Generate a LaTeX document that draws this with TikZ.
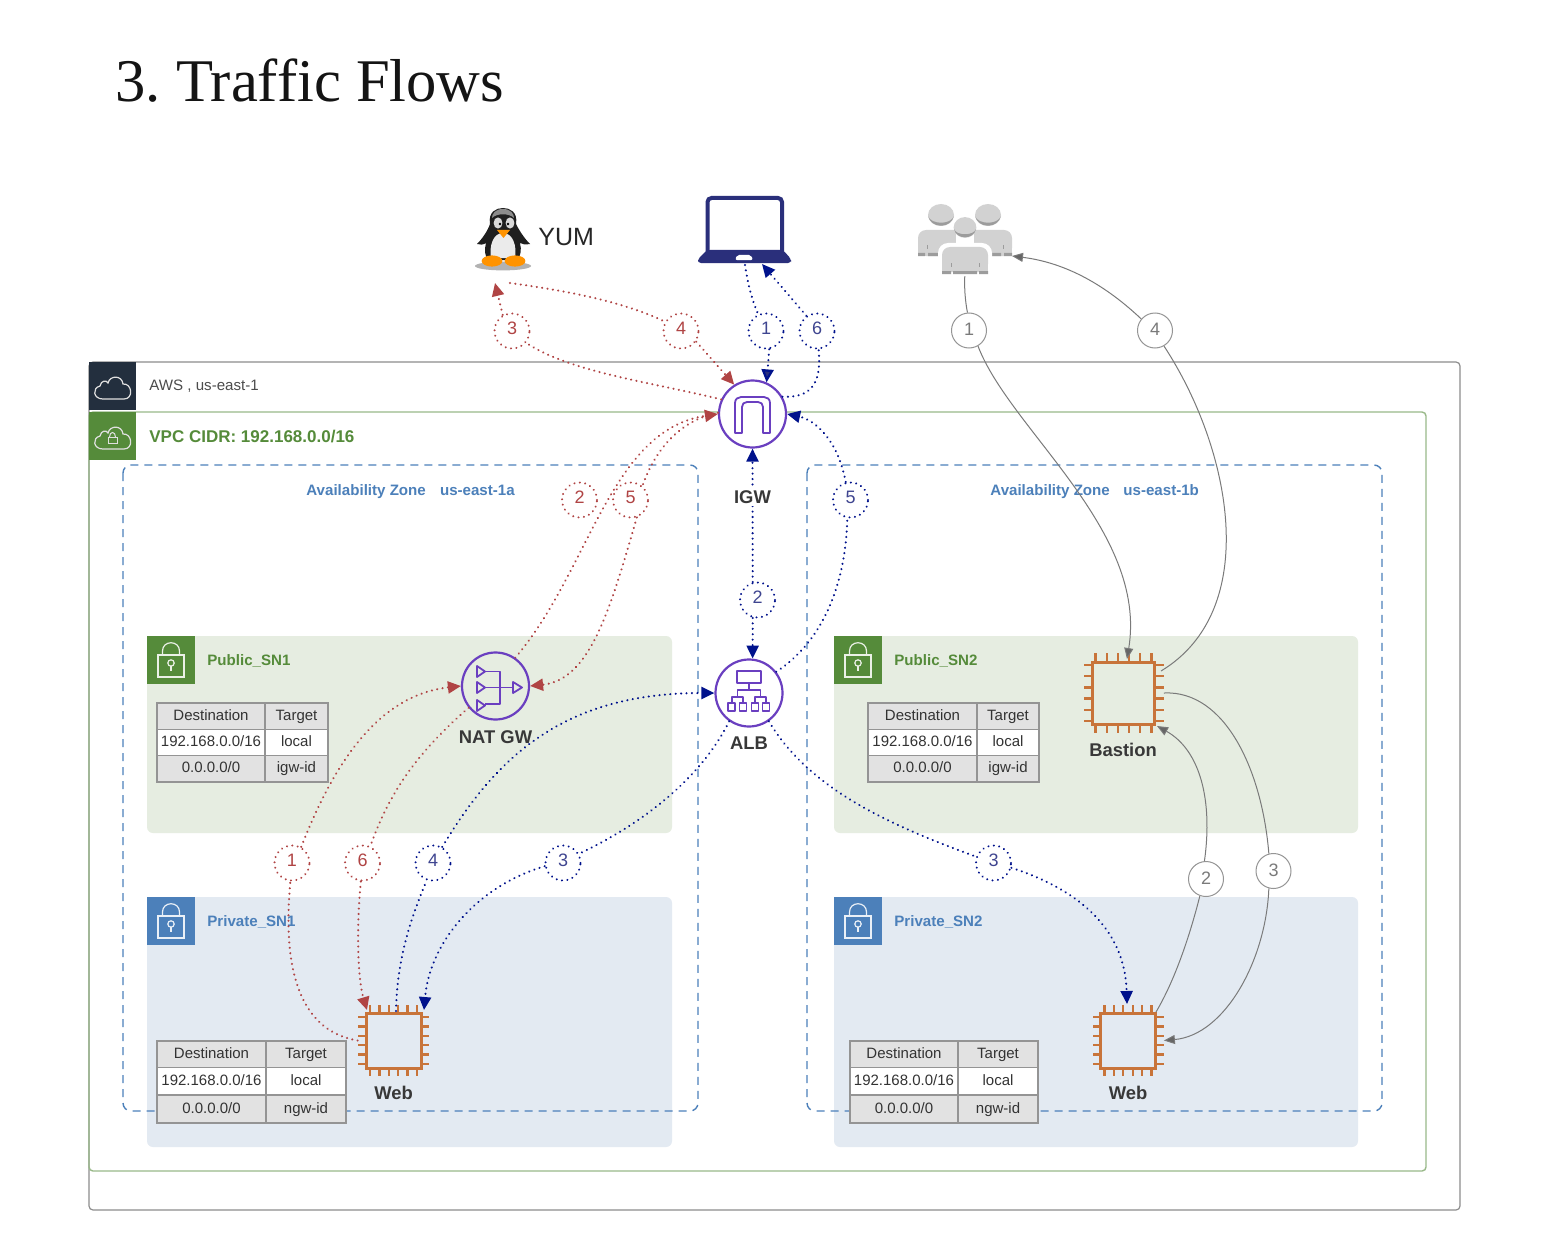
\documentclass[tikz,border=0pt]{standalone}
\usepackage{fontspec}
\setmainfont{Liberation Sans}
\newfontfamily\titlefont{Liberation Serif}
\usetikzlibrary{arrows.meta,calc}
\frenchspacing
\definecolor{cred}{HTML}{B04444}
\definecolor{cblue}{HTML}{00128C}
\definecolor{cnum}{HTML}{3F4590}
\definecolor{cgrey}{HTML}{7A7A7A}
\definecolor{cpurple}{HTML}{6A3FC0}
\definecolor{corange}{HTML}{C8743A}
\definecolor{cgreen}{HTML}{558B3A}
\definecolor{cazure}{HTML}{4C80BA}
\definecolor{cnavy}{HTML}{2A2F7B}
\definecolor{cdark}{HTML}{232F3E}
\definecolor{paneg}{HTML}{E6EDE1}
\definecolor{paneb}{HTML}{E3EAF2}
\definecolor{tgrey}{HTML}{E2E2E2}
\definecolor{ppl}{HTML}{D2D2D2}
\definecolor{ppld}{HTML}{9C9C9C}
\tikzset{
  numred/.style={circle,draw=cred,fill=none,text=cred,line width=1.1pt,dash pattern=on 0.01pt off 2.7pt,line cap=round,minimum size=17.5pt,inner sep=0pt,text height=6.4pt,text depth=3pt,font=\fontsize{9}{9}\selectfont},
  numblue/.style={numred,draw=cblue,text=cnum},
  numgrey/.style={circle,draw=cgrey!80,text=cgrey,fill=white,line width=.5pt,minimum size=17.5pt,inner sep=0pt,text height=6.4pt,text depth=1pt,font=\fontsize{9}{9}\selectfont},
  flowbase/.style={line width=1.15pt,dash pattern=on 0.01pt off 2.7pt,line cap=round},
  flowred/.style={flowbase,draw=cred},
  flowblue/.style={flowbase,draw=cblue},
  flowgrey/.style={draw=cgrey,line width=.5pt},
  redtip/.style={-{Triangle[length=6.5pt,width=6pt,fill=cred]}},
  bluetip/.style={-{Triangle[length=6.5pt,width=6pt,fill=cblue]}},
  navytip/.style={-{Triangle[length=6.5pt,width=6pt,fill=cnavy]}},
  greytip/.style={-{Triangle[length=5.5pt,width=4.5pt,fill=black!60]}},
  hubcircle/.style={circle,draw=cpurple,fill=white,line width=1.1pt,inner sep=0pt,minimum size=33.5pt},
  iconline/.style={draw=cpurple,line width=.9pt,line join=round},
  chipbody/.style={rectangle,inner sep=0pt},
  celltext/.style={font=\fontsize{7.5}{7.5}\selectfont,text=black!80,inner sep=0pt,text height=5.6pt,text depth=1.6pt},
  boldlabel/.style={font=\fontsize{9.2}{9.2}\selectfont\bfseries,text=black!78,inner sep=1pt},
  panelabel/.style={font=\fontsize{7.55}{7.55}\selectfont\bfseries,anchor=west,inner sep=0pt},
  azlabel/.style={font=\fontsize{7.55}{7.55}\selectfont\bfseries,text=cazure,anchor=west,inner sep=0pt},
}
% name, x0 x1 x2, y0 y1 y2 y3, target of the last row
\newcommand{\rtbl}[9]{%
  \fill[tgrey] (#2,#5) rectangle (#4,#8);
  \fill[white] (#2,#6) rectangle (#4,#7);
  \draw[black!42,line width=.55pt] (#2,#5) rectangle (#4,#8) (#3,#5) -- (#3,#8) (#2,#6) -- (#4,#6) (#2,#7) -- (#4,#7);
  \node[celltext] (#1a) at ({(#2+#3)/2},{(#5+#6)/2}) {Destination};
  \node[celltext] (#1b) at ({(#3+#4)/2},{(#5+#6)/2}) {Target};
  \node[celltext] (#1c) at ({(#2+#3)/2},{(#6+#7)/2}) {192.168.0.0/16};
  \node[celltext] (#1d) at ({(#3+#4)/2},{(#6+#7)/2}) {local};
  \node[celltext] (#1e) at ({(#2+#3)/2},{(#7+#8)/2}) {0.0.0.0/0};
  \node[celltext] (#1f) at ({(#3+#4)/2},{(#7+#8)/2}) {#9};
}
% name, cx, cy, half, pitch, pin length
\newcommand{\chipicon}[6]{%
  \node[chipbody,minimum size={(#4+#6)*1pt}] (#1) at (#2,#3) {};
  \begin{scope}[shift={(#2,#3)}]
    \draw[corange,line width=1.5pt,line join=miter] (-#4,-#4) rectangle (#4,#4);
    \foreach \i in {-2.5,-1.5,-0.5,0.5,1.5,2.5}{
      \draw[corange,line width=1.15pt] ({\i*#5},{-#4}) -- ({\i*#5},{-#4-#6});
      \draw[corange,line width=1.15pt] ({\i*#5},{#4}) -- ({\i*#5},{#4+#6});
      \draw[corange,line width=1.15pt] ({-#4},{\i*#5}) -- ({-#4-#6},{\i*#5});
      \draw[corange,line width=1.15pt] ({#4},{\i*#5}) -- ({#4+#6},{\i*#5});
    }
  \end{scope}
}
% fill colour, cx, cy
\newcommand{\lockicon}[3]{%
  \fill[#1] ({#2-24},{#3-24}) rectangle ({#2+24},{#3+24});
  \begin{scope}[shift={(#2,#3)},white!88!#1,line width=.6pt]
    \draw (-13,-5) rectangle (13,17);
    \draw (-8.5,-5) -- (-8.5,-9) .. controls (-8.5,-20) and (8.5,-20) .. (8.5,-9) -- (8.5,-5);
    \draw (0,3) circle (1.6pt);
    \draw (0,6) -- (0,11);
  \end{scope}
}
\newcommand{\cloudpath}[2]{%
  \draw[white!88!black,line width=.6pt,shift={(#1,#2)}] (-10,12) .. controls (-20,12) and (-21,1) .. (-13,-1) .. controls (-12,-7) and (-6,-7) .. (-5,-4) .. controls (-3,-12) and (9,-12) .. (10,-3) .. controls (19,-4) and (21,12) .. (11,12) -- cycle;
}
\begin{document}
\begin{tikzpicture}[x=0.5pt,y=-0.5pt]
\useasboundingbox (0,0) rectangle (1562,1246);
\fill[white] (0,0) rectangle (1562,1246);
\node[font=\titlefont\fontsize{30.3}{30.3}\selectfont,anchor=base west,inner sep=0pt,text=black!92] (title) at (115,102) {3. Traffic Flows};

% frames
\draw[black!45,line width=.6pt,rounded corners=2pt] (89,362) rectangle (1460,1210);
\draw[cgreen!60,line width=.7pt,rounded corners=2pt] (89,412) rectangle (1426,1171);
\fill[paneg,rounded corners=3pt] (147,636) rectangle (672,833);
\fill[paneb,rounded corners=3pt] (147,897) rectangle (672,1147);
\fill[paneg,rounded corners=3pt] (834,636) rectangle (1358,833);
\fill[paneb,rounded corners=3pt] (834,897) rectangle (1358,1147);
\draw[cazure,line width=.7pt,dash pattern=on 4pt off 3pt,rounded corners=4pt] (123,465) rectangle (698,1111);
\draw[cazure,line width=.7pt,dash pattern=on 4pt off 3pt,rounded corners=4pt] (807,465) rectangle (1382,1111);

% headers
\fill[cdark] (89,362) rectangle (136,410);
\cloudpath{113}{387}
\fill[cgreen] (89,412) rectangle (136,460);
\cloudpath{113}{437}
\draw[white!88!black,line width=.5pt] (108,437) rectangle (117,443);
\draw[white!88!black,line width=.5pt] (109.5,437) .. controls (109.5,431) and (115.5,431) .. (115.5,437);
\node[anchor=west,inner sep=0pt,text=black!70,font=\fontsize{7.55}{7.55}\selectfont] (awslabel) at (149,386.5) {AWS , us-east-1};
\node[anchor=west,inner sep=0pt,text=cgreen,font=\fontsize{8.5}{8.5}\selectfont\bfseries] (vpclabel) at (149,437) {VPC CIDR: 192.168.0.0/16};
\node[azlabel] (az1label) at (306,492) {Availability Zone\ \ \ \hspace{.8pt}us-east-1a};
\node[azlabel] (az2label) at (990,492) {Availability Zone\ \ \ \hspace{.5pt}us-east-1b};

\lockicon{cgreen}{171}{660}
\lockicon{cazure}{171}{921}
\lockicon{cgreen}{858}{660}
\lockicon{cazure}{858}{921}
\node[panelabel,text=cgreen] (pub1) at (207,661) {Public\_SN1};
\node[panelabel,text=cazure] (prv1) at (207,922) {Private\_SN1};
\node[panelabel,text=cgreen] (pub2) at (894,661) {Public\_SN2};
\node[panelabel,text=cazure] (prv2) at (894,922) {Private\_SN2};

% route tables
\rtbl{ta}{157}{265}{328}{703}{729.5}{755.5}{782}{igw-id}
\rtbl{tb}{157}{266}{346}{1041}{1067.5}{1095}{1123}{ngw-id}
\rtbl{tc}{868}{977}{1039}{703}{729.5}{755.5}{782}{igw-id}
\rtbl{td}{850}{958}{1038}{1041}{1067.5}{1095}{1123}{ngw-id}

% hubs and chips
\node[hubcircle] (igw) at (752.5,414) {};
\node[hubcircle] (alb) at (749,693) {};
\node[hubcircle,fill=none] (nat) at (495.5,686) {};
\chipicon{web1}{393.5}{1040.5}{27.5}{9.4}{8}
\chipicon{bas}{1123.5}{693}{31}{11.2}{9}
\chipicon{web2}{1128}{1040.5}{27.5}{9.4}{8}

% free ends
\coordinate (yumin) at (495,283);
\coordinate (yumout) at (510,283);
\coordinate (lapout) at (745,265);
\coordinate (lapin) at (762,264);
\coordinate (pplout) at (965,273);
\coordinate (pplin) at (1012,256);
\coordinate (w1redin) at (367,1010);
\coordinate (w1blueout) at (396,1011);
\coordinate (w1bluein) at (424,1010);
\coordinate (w2in) at (1127,1004);
\coordinate (w2out) at (1156,1012);
\coordinate (basin) at (1127,659);
\coordinate (basout) at (1161,671);
\coordinate (basin2) at (1157,726);

% number circles
\node[numred] (r3) at (512,331) {3};
\node[numred] (r4) at (681,331) {4};
\node[numblue] (b1) at (766,331) {1};
\node[numblue] (b6) at (817,331) {6};
\node[numred] (r2) at (579.5,500) {2};
\node[numred] (r5) at (630.5,500) {5};
\node[numblue] (b5) at (850.5,500) {5};
\node[numblue] (b2) at (757.5,600) {2};
\node[numred] (r1) at (292,863) {1};
\node[numred] (r6) at (362.5,863) {6};
\node[numblue] (b4) at (433,863) {4};
\node[numblue] (b3) at (563,863) {3};
\node[numblue] (b3r) at (993.5,863) {3};
\node[numgrey] (g1) at (969,330.5) {1};
\node[numgrey] (g4) at (1155,330.5) {4};
\node[numgrey] (g2) at (1206,879) {2};
\node[numgrey] (g3) at (1273.5,871) {3};

% red flows
\draw[flowred,redtip] (r3.120) -- (yumin);
\draw[flowred] (igw.155) .. controls (650,382) and (570,372) .. (r3.-40);
\draw[flowred] (yumout) .. controls (560,290) and (620,300) .. (r4.150);
\draw[flowred,redtip] (r4.-35) -- (igw.122);
\draw[flowred,redtip] (nat.55) .. controls (590,570) and (610,430) .. (igw.180);
\draw[flowred] (igw.178) .. controls (680,420) and (655,450) .. (r5.50);
\draw[flowred,redtip] (r5.-70) .. controls (610,610) and (590,680) .. (nat.0);
\draw[flowred] (web1.west) .. controls (295,1030) and (283,960) .. (r1.-95);
\draw[flowred,redtip] (r1.60) .. controls (335,760) and (380,695) .. (nat.180);
\draw[flowred] (nat.219) .. controls (420,750) and (390,790) .. (r6.65);
\draw[flowred,redtip] (r6.-95) .. controls (356,930) and (358,980) .. (w1redin);

% blue flows
\draw[flowblue] (lapout) .. controls (748,285) and (752,300) .. (b1.115);
\draw[flowblue,navytip] (b1.-80) -- (igw.66);
\draw[flowblue] (igw.30) .. controls (810,398) and (822,385) .. (b6.-85);
\draw[flowblue,bluetip] (b6.125) -- (lapin);
\draw[flowblue,bluetip] (b5.105) .. controls (838,440) and (815,420) .. (igw.0);
\draw[flowblue] (alb.38) .. controls (825,640) and (846,580) .. (b5.-100);
\draw[flowblue,bluetip] (b2.105) -- (igw.-90);
\draw[flowblue,bluetip] (b2.-105) -- (alb.84);
\draw[flowblue] (w1blueout) .. controls (397,960) and (410,920) .. (b4.-110);
\draw[flowblue,bluetip] (b4.60) .. controls (500,750) and (570,693) .. (alb.180);
\draw[flowblue] (alb.-125) .. controls (700,780) and (640,825) .. (b3.30);
\draw[flowblue,bluetip] (b3.190) .. controls (480,885) and (430,940) .. (w1bluein);
\draw[flowblue] (alb.-55) .. controls (810,790) and (890,825) .. (b3r.160);
\draw[flowblue,bluetip] (b3r.-15) .. controls (1080,890) and (1125,930) .. (w2in);

% grey flows
\draw[flowgrey] (pplout) .. controls (964,285) and (965,300) .. (g1.95);
\draw[flowgrey,greytip] (g1.-60) .. controls (1010,430) and (1148,530) .. (basin);
\draw[flowgrey] (basout) .. controls (1262,610) and (1232,450) .. (g4.-60);
\draw[flowgrey,greytip] (g4.140) .. controls (1100,280) and (1060,262) .. (pplin);
\draw[flowgrey] (w2out) .. controls (1175,980) and (1190,935) .. (g2.-110);
\draw[flowgrey,greytip] (g2.95) .. controls (1213,800) and (1200,750) .. (basin2);
\draw[flowgrey] (bas.east) .. controls (1225,690) and (1262,770) .. (g3.105);
\draw[flowgrey,greytip] (g3.-105) .. controls (1266,960) and (1225,1035) .. (web2.east);

% hub labels
\node[boldlabel,fill=white] (igwlabel) at (752.5,497) {IGW};
\node[boldlabel] (natlabel) at (495.5,737) {NAT GW};
\node[boldlabel] (alblabel) at (749,743) {ALB};
\node[boldlabel] (baslabel) at (1123,750) {Bastion};
\node[boldlabel] (w1label) at (393.5,1093) {Web};
\node[boldlabel] (w2label) at (1128,1093) {Web};

% IGW icon
\draw[iconline] (735,433) -- (735,403) .. controls (735,399) and (738,397) .. (741,397) -- (764,397) .. controls (767,397) and (770,399) .. (770,403) -- (770,433) -- (763,433) -- (763,407) .. controls (763,404) and (761,402) .. (758,402) -- (747,402) .. controls (744,402) and (742,404) .. (742,407) -- (742,433) -- cycle;

% NAT icon
\draw[iconline] (477,666) -- (485,671.5) -- (477,677) -- cycle;
\draw[iconline] (477,682) -- (485,687.5) -- (477,693) -- cycle;
\draw[iconline] (477,700) -- (485,705.5) -- (477,711) -- cycle;
\draw[iconline] (485,671.5) -- (500,671.5) -- (500,704) -- (485,704);
\draw[iconline] (485,687.5) -- (513,687.5);
\draw[iconline] (513,682) -- (522,687.5) -- (513,693) -- cycle;

% ALB icon
\draw[iconline] (737,671) rectangle (761,683);
\draw[iconline] (749,683) -- (749,690);
\draw[iconline] (737.5,697) -- (737.5,690) -- (760.5,690) -- (760.5,697);
\draw[iconline] (732,703) -- (732,697) -- (743,697) -- (743,703);
\draw[iconline] (755,703) -- (755,697) -- (766,697) -- (766,703);
\draw[iconline] (728,703) rectangle (735,711);
\draw[iconline] (739.5,703) rectangle (746.5,711);
\draw[iconline] (751.5,703) rectangle (758.5,711);
\draw[iconline] (762.5,703) rectangle (769.5,711);

% laptop
\draw[cnavy,line width=2pt,rounded corners=2pt] (707.5,252) -- (707.5,198) -- (782,198) -- (782,252);
\fill[cnavy,rounded corners=1.5pt] (707,250) -- (783,250) -- (791,259) -- (791,263) -- (698,263) -- (698,259) -- cycle;
\fill[white,rounded corners=1pt] (735,260) -- (737,255) -- (751,255) -- (753,260) -- cycle;

% people
\fill[ppl] (941,215) ellipse (6.5pt and 5.5pt);
\fill[ppld] (928,216) .. controls (931,229) and (951,229) .. (954,216) .. controls (951,225) and (931,225) .. (928,216);
\fill[ppl] (988,215) ellipse (6.5pt and 5.5pt);
\fill[ppld] (975,216) .. controls (978,229) and (998,229) .. (1001,216) .. controls (998,225) and (978,225) .. (975,216);
\fill[ppl,rounded corners=4pt] (918,256) -- (918,230) -- (1012,230) -- (1012,256) -- cycle;
\fill[ppl] (918,245) rectangle (1012,253);
\fill[ppld] (918,253) rectangle (925,256) (928,253) rectangle (939,256) (990,253) rectangle (1001,256) (1004,253) rectangle (1012,256);
\draw[ppld,line width=.4pt] (927,245) -- (927,249) (1003,245) -- (1003,249);
\fill[white] (956,220) rectangle (974,243);
\fill[white,rounded corners=5pt] (938,276) -- (938,243) -- (992,243) -- (992,276) -- cycle;
\fill[ppl,rounded corners=4pt] (942,272) -- (942,247) -- (988,247) -- (988,272) -- cycle;
\fill[ppl] (942,262) rectangle (988,271);
\fill[ppld] (942,271) rectangle (951,274) (953,271) rectangle (977,274) (979,271) rectangle (988,274);
\draw[ppld,line width=.4pt] (951,263) -- (951,267) (979,263) -- (979,267);
\fill[ppl] (965,227.5) ellipse (5.7pt and 5.2pt);
\fill[ppld] (954,229) .. controls (956,240) and (974,240) .. (976,229) .. controls (974,236) and (956,236) .. (954,229);

% penguin
\fill[black!30] (503,266) ellipse (14pt and 2.2pt);
\fill[black!88] (477,244) .. controls (483,238) and (488,230) .. (490,224) .. controls (488,212) and (496,208) .. (503,208) .. controls (510,208) and (518,212) .. (516,224) .. controls (519,230) and (524,238) .. (530,244) .. controls (525,245) and (522,244) .. (520,243) .. controls (522,250) and (520,256) .. (518,260) -- (488,260) .. controls (485,256) and (484,250) .. (486,243) .. controls (483,245) and (480,245) .. (477,244) -- cycle;
\fill[black!8] (503,233) .. controls (493,233) and (489,246) .. (491,258) -- (515,258) .. controls (517,246) and (513,233) .. (503,233) -- cycle;
\fill[black!45] (503,209) .. controls (495,209) and (492,214) .. (492,218) .. controls (497,213) and (509,213) .. (514,218) .. controls (514,214) and (511,209) .. (503,209) -- cycle;
\fill[white!85!black] (498,223) ellipse (2.2pt and 2.8pt);
\fill[white!85!black] (510,223) ellipse (2.2pt and 2.8pt);
\fill[black] (500,224) circle (.7pt);
\fill[black] (508,224) circle (.7pt);
\fill[orange!85!yellow] (497,230) -- (510,230) -- (503.5,238) -- cycle;
\fill[orange!85!yellow] (492,261) ellipse (5.2pt and 2.8pt);
\fill[orange!85!yellow] (515,261) ellipse (5.2pt and 2.8pt);
\node[anchor=west,inner sep=0pt,text=black!85,font=\fontsize{12.5}{12.5}\selectfont] (yum) at (538,237) {YUM};
\end{tikzpicture}
\end{document}
